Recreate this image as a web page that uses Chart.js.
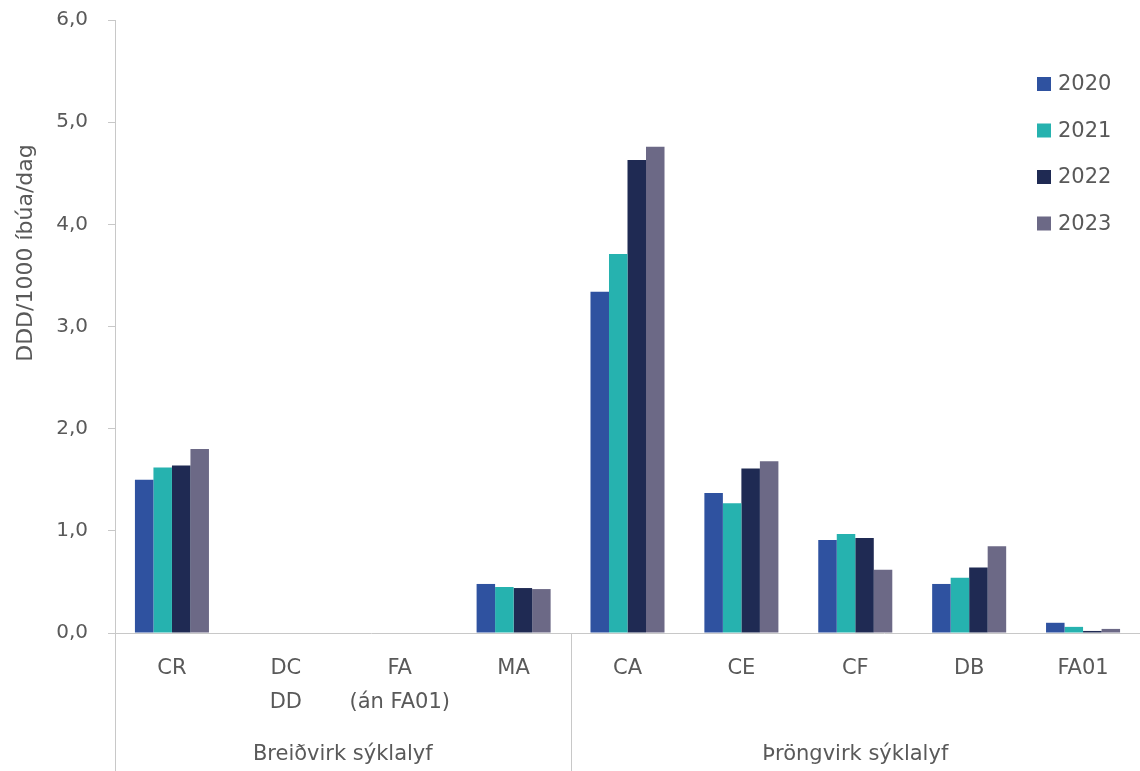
<!DOCTYPE html>
<html>
<head>
<meta charset="utf-8">
<script src="https://cdn.jsdelivr.net/npm/chart.js@4.4.1/dist/chart.umd.min.js"></script>
<style>
  html, body { margin: 0; padding: 0; background: #ffffff; }
  #wrap { width: 1140px; height: 771px; }
</style>
</head>
<body>
<div id="wrap"><canvas id="c" width="1140" height="771"></canvas></div>
<script>
// ---- Data ----
const categories = [['CR'], ['DC', 'DD'], ['FA', '(án FA01)'], ['MA'], ['CA'], ['CE'], ['CF'], ['DB'], ['FA01']];
const groups = ['Breiðvirk sýklalyf', 'Þröngvirk sýklalyf'];
const groupSizes = [4, 5];
const years = ['2020', '2021', '2022', '2023'];
const values2020 = [1.50, null, null, 0.48, 3.34, 1.37, 0.91, 0.48, 0.10];
const values2021 = [1.62, null, null, 0.45, 3.71, 1.27, 0.97, 0.54, 0.06];
const values2022 = [1.64, null, null, 0.44, 4.63, 1.61, 0.93, 0.64, 0.02];
const values2023 = [1.80, null, null, 0.43, 4.76, 1.68, 0.62, 0.85, 0.04];
const yTicks = [0, 1, 2, 3, 4, 5, 6];
const yTitle = 'DDD/1000 íbúa/dag';

const colors = ['#2F52A0', '#26B2AF', '#1F2A53', '#6C6986'];
const seriesValues = [values2020, values2021, values2022, values2023];
const textColor = '#595959';
const axisColor = '#c8c8c8';
const FONT = "'DejaVu Sans', sans-serif";

const extras = {
  id: 'extras',
  afterDraw(chart) {
    const ctx = chart.ctx;
    const area = chart.chartArea;
    const x = chart.scales.x;
    const H = chart.height;
    ctx.save();
    // extend y axis line downward
    ctx.strokeStyle = axisColor;
    ctx.lineWidth = 1;
    ctx.beginPath();
    ctx.moveTo(Math.round(area.left) + 0.5, area.bottom);
    ctx.lineTo(Math.round(area.left) + 0.5, H);
    ctx.stroke();
    // group separators and labels
    let start = 0;
    ctx.fillStyle = textColor;
    ctx.font = "21px " + FONT;
    ctx.textAlign = 'center';
    ctx.textBaseline = 'middle';
    const half = (x.getPixelForValue(1) - x.getPixelForValue(0)) / 2;
    groups.forEach((g, i) => {
      const end = start + groupSizes[i] - 1;
      const left = x.getPixelForValue(start) - half;
      const right = x.getPixelForValue(end) + half;
      ctx.fillText(g, (left + right) / 2, 755);
      if (i < groups.length - 1) {
        ctx.beginPath();
        ctx.moveTo(Math.round(right) + 0.5, area.bottom);
        ctx.lineTo(Math.round(right) + 0.5, H);
        ctx.stroke();
      }
      start = end + 1;
    });
    // y title
    ctx.save();
    ctx.translate(26, 253);
    ctx.rotate(-Math.PI / 2);
    ctx.font = "22px " + FONT;
    ctx.fillText(yTitle, 0, 0);
    ctx.restore();
    // legend
    ctx.font = "21px " + FONT;
    ctx.textAlign = 'left';
    chart.data.datasets.forEach((ds, i) => {
      const cy = 84 + i * 46.5;
      ctx.fillStyle = ds.backgroundColor;
      ctx.fillRect(1037, cy - 7, 14, 14);
      ctx.fillStyle = textColor;
      ctx.fillText(ds.label, 1058, cy + 1);
    });
    ctx.restore();
  }
};

new Chart(document.getElementById('c'), {
  type: 'bar',
  data: {
    labels: categories,
    datasets: years.map((y, i) => ({
      label: y,
      data: seriesValues[i],
      backgroundColor: colors[i],
      borderWidth: 0,
      categoryPercentage: 0.65,
      barPercentage: 1.0
    }))
  },
  options: {
    responsive: false,
    devicePixelRatio: 1,
    animation: false,
    layout: { padding: { top: 20, left: 0, right: 0, bottom: 0 } },
    plugins: { legend: { display: false }, tooltip: { enabled: false } },
    scales: {
      x: {
        grid: { display: false, drawTicks: false },
        border: { display: true, color: axisColor, width: 1 },
        ticks: {
          color: textColor,
          font: { family: FONT, size: 21, lineHeight: 1.62 },
          padding: 19,
          maxRotation: 0,
          autoSkip: false
        },
        afterFit(scale) { scale.height = 138; scale.paddingLeft = 0; scale.paddingRight = 0; }
      },
      y: {
        min: 0,
        max: 6,
        afterBuildTicks(scale) { scale.ticks = yTicks.map(v => ({ value: v })); },
        grid: { display: true, drawOnChartArea: false, drawTicks: true, tickLength: 7, color: axisColor },
        border: { display: true, color: axisColor, width: 1 },
        ticks: {
          color: textColor,
          font: { family: FONT, size: 20 },
          padding: 20,
          callback: v => v.toFixed(1).replace('.', ',')
        },
        afterFit(scale) { scale.width = 115; scale.paddingTop = 0; scale.paddingBottom = 0; }
      }
    }
  },
  plugins: [extras]
});
</script>
</body>
</html>
